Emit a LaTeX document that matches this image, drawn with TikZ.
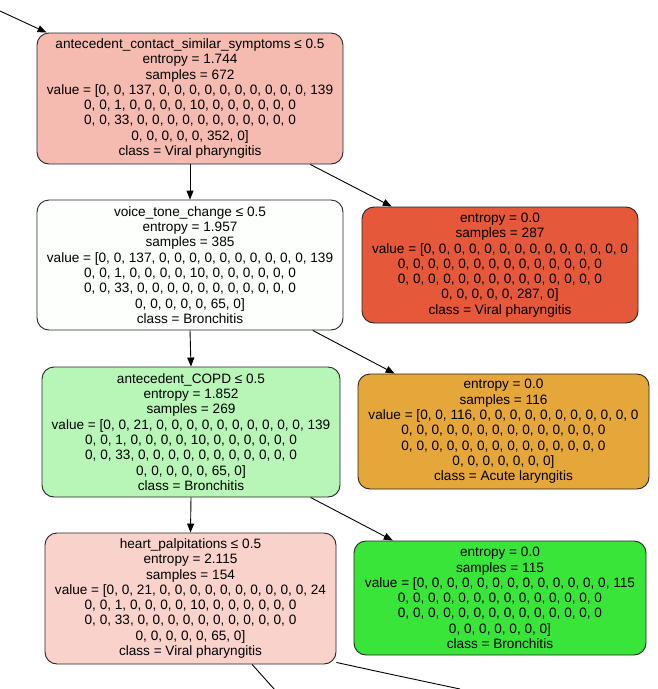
\documentclass[tikz,border=0pt]{standalone}
\usepackage{fontspec}
\setmainfont{Liberation Sans}
\usetikzlibrary{arrows.meta,calc}
\definecolor{cRoot}{RGB}{245,187,176}
\definecolor{cTwo}{RGB}{253,255,253}
\definecolor{cThree}{RGB}{183,246,183}
\definecolor{cFour}{RGB}{248,210,203}
\definecolor{cRed}{RGB}{229,88,57}
\definecolor{cOrange}{RGB}{229,167,57}
\definecolor{cGreen}{RGB}{57,229,57}
\tikzset{
  treenode/.style={draw=black!85, line width=0.9pt, rounded corners=12pt, align=center,
    inner sep=0pt, font=\fontsize{13.6}{15.3}\selectfont},
  edge/.style={line width=0.9pt, draw=black, -{Triangle[length=9pt,width=7pt]}},
  plainedge/.style={line width=0.9pt, draw=black}
}
\begin{document}
\begin{tikzpicture}[x=1pt,y=-1pt]
\useasboundingbox (0,0) rectangle (658,689);
\clip (0,0) rectangle (658,689);
\node[treenode, fill=cRoot, minimum width=306pt, minimum height=131pt] (root) at (190,98.5)
  {antecedent\_contact\_similar\_symptoms ≤ 0.5\\entropy = 1.744\\samples = 672\\value = [0, 0, 137, 0, 0, 0, 0, 0, 0, 0, 0, 0, 0, 139\\0, 0, 1, 0, 0, 0, 0, 10, 0, 0, 0, 0, 0, 0\\0, 0, 33, 0, 0, 0, 0, 0, 0, 0, 0, 0, 0, 0\\0, 0, 0, 0, 0, 352, 0]\\class = Viral pharyngitis};
\node[treenode, fill=cTwo, minimum width=306pt, minimum height=130pt] (n2) at (190,265)
  {voice\_tone\_change ≤ 0.5\\entropy = 1.957\\samples = 385\\value = [0, 0, 137, 0, 0, 0, 0, 0, 0, 0, 0, 0, 0, 139\\0, 0, 1, 0, 0, 0, 0, 10, 0, 0, 0, 0, 0, 0\\0, 0, 33, 0, 0, 0, 0, 0, 0, 0, 0, 0, 0, 0\\0, 0, 0, 0, 0, 65, 0]\\class = Bronchitis};
\node[treenode, fill=cRed, minimum width=276pt, minimum height=116pt] (r1) at (500,265)
  {entropy = 0.0\\samples = 287\\value = [0, 0, 0, 0, 0, 0, 0, 0, 0, 0, 0, 0, 0, 0\\0, 0, 0, 0, 0, 0, 0, 0, 0, 0, 0, 0, 0, 0\\0, 0, 0, 0, 0, 0, 0, 0, 0, 0, 0, 0, 0, 0\\0, 0, 0, 0, 0, 287, 0]\\class = Viral pharyngitis};
\node[treenode, fill=cThree, minimum width=298pt, minimum height=130pt] (n3) at (191,432)
  {antecedent\_COPD ≤ 0.5\\entropy = 1.852\\samples = 269\\value = [0, 0, 21, 0, 0, 0, 0, 0, 0, 0, 0, 0, 0, 139\\0, 0, 1, 0, 0, 0, 0, 10, 0, 0, 0, 0, 0, 0\\0, 0, 33, 0, 0, 0, 0, 0, 0, 0, 0, 0, 0, 0\\0, 0, 0, 0, 0, 65, 0]\\class = Bronchitis};
\node[treenode, fill=cOrange, minimum width=291pt, minimum height=115pt] (r2) at (503.5,431.5)
  {entropy = 0.0\\samples = 116\\value = [0, 0, 116, 0, 0, 0, 0, 0, 0, 0, 0, 0, 0, 0\\0, 0, 0, 0, 0, 0, 0, 0, 0, 0, 0, 0, 0, 0\\0, 0, 0, 0, 0, 0, 0, 0, 0, 0, 0, 0, 0, 0\\0, 0, 0, 0, 0, 0, 0]\\class = Acute laryngitis};
\node[treenode, fill=cFour, minimum width=291pt, minimum height=131pt] (n4) at (190.5,598.5)
  {heart\_palpitations ≤ 0.5\\entropy = 2.115\\samples = 154\\value = [0, 0, 21, 0, 0, 0, 0, 0, 0, 0, 0, 0, 0, 24\\0, 0, 1, 0, 0, 0, 0, 10, 0, 0, 0, 0, 0, 0\\0, 0, 33, 0, 0, 0, 0, 0, 0, 0, 0, 0, 0, 0\\0, 0, 0, 0, 0, 65, 0]\\class = Viral pharyngitis};
\node[treenode, fill=cGreen, minimum width=292pt, minimum height=114pt] (r3) at (500,598)
  {entropy = 0.0\\samples = 115\\value = [0, 0, 0, 0, 0, 0, 0, 0, 0, 0, 0, 0, 0, 115\\0, 0, 0, 0, 0, 0, 0, 0, 0, 0, 0, 0, 0, 0\\0, 0, 0, 0, 0, 0, 0, 0, 0, 0, 0, 0, 0, 0\\0, 0, 0, 0, 0, 0, 0]\\class = Bronchitis};
% free ends
\coordinate (inA) at (0,11);
\coordinate (outA) at (275,690);
\coordinate (outB) at (460,689);
% edges
\draw[edge] (inA) -- ($(root.north west)+(10,0)$);
\draw[edge] (root.south) -- (n2.north);
\draw[edge] ($(root.south west)!0.892!(root.south east)$) -- ($(r1.north west)!0.109!(r1.north east)$);
\draw[edge] (n2.south) -- (n3.north);
\draw[edge] ($(n2.south west)!0.9!(n2.south east)$) -- ($(r2.north west)!0.127!(r2.north east)$);
\draw[edge] (n3.south) -- (n4.north);
\draw[edge] ($(n3.south west)!0.9!(n3.south east)$) -- ($(r3.north west)!0.134!(r3.north east)$);
\draw[plainedge] ($(n4.south west)!0.711!(n4.south east)$) -- (outA);
\draw[plainedge] ($(n4.south east)+(0,-2)$) .. controls (380,672) .. (outB);
\end{tikzpicture}
\end{document}
